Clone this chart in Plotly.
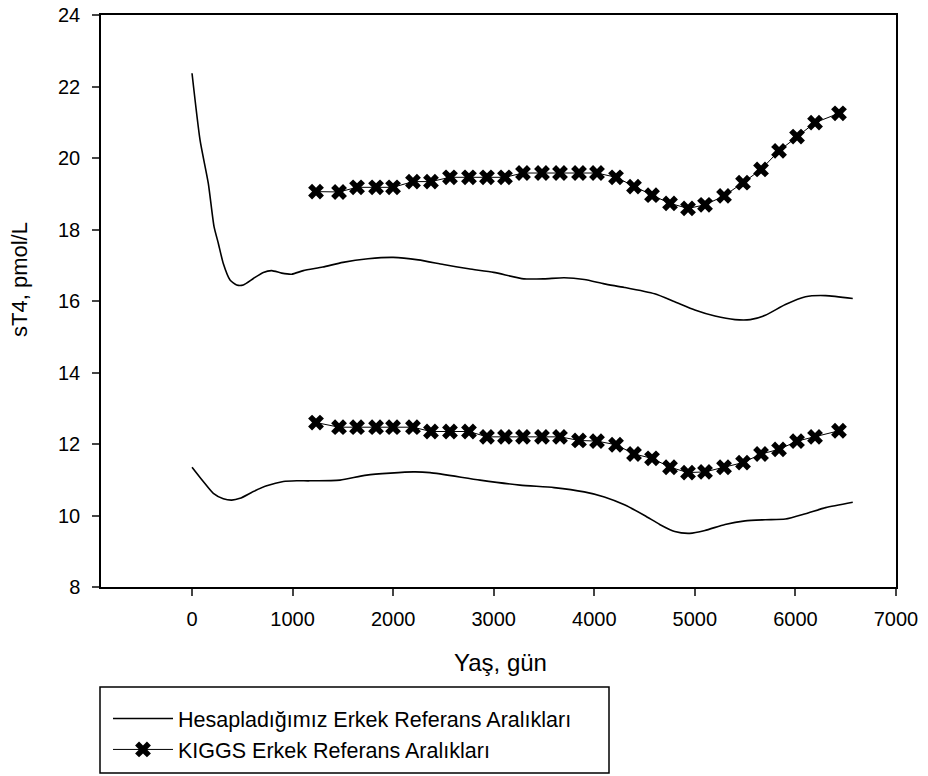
import plotly.graph_objects as go

# Calculated (smooth) reference limits
calc_upper_x = [0, 80, 162, 219, 262, 311, 378, 444, 510, 610, 709, 792, 892, 991, 1107,
                1300, 1500, 1750, 2000, 2250, 2500, 2750, 3000, 3300, 3500, 3700, 3900,
                4100, 4300, 4600, 4800, 5000, 5200, 5400, 5550, 5700, 5900, 6100, 6300, 6570]
calc_upper_y = [22.37, 20.5, 19.29, 18.08, 17.61, 17.05, 16.59, 16.45, 16.45, 16.63, 16.80,
                16.85, 16.78, 16.75, 16.85, 16.95, 17.08, 17.18, 17.22, 17.15, 17.02, 16.90,
                16.80, 16.62, 16.62, 16.65, 16.60, 16.48, 16.38, 16.20, 15.98, 15.75, 15.58,
                15.48, 15.48, 15.60, 15.90, 16.12, 16.15, 16.07]

calc_lower_x = [0, 112, 212, 311, 395, 477, 610, 743, 908, 1041, 1173, 1472, 1737, 2200,
                2367, 2864, 3261, 3600, 3900, 4100, 4300, 4500, 4650, 4800, 4950, 5100,
                5300, 5500, 5700, 5900, 6100, 6300, 6570]
calc_lower_y = [11.35, 10.95, 10.62, 10.47, 10.43, 10.48, 10.67, 10.83, 10.95, 10.97, 10.97,
                10.99, 11.13, 11.22, 11.20, 10.99, 10.85, 10.78, 10.66, 10.52, 10.30, 10.0,
                9.75, 9.55, 9.50, 9.58, 9.75, 9.85, 9.88, 9.90, 10.05, 10.22, 10.37]

# KIGGS reference limits
kiggs_x = [1233, 1462, 1641, 1830, 1999, 2197, 2376, 2565, 2754, 2933, 3112, 3291, 3480,
           3659, 3848, 4027, 4216, 4395, 4574, 4753, 4932, 5101, 5290, 5479, 5658, 5837,
           6016, 6195, 6433]
kiggs_upper = [19.06, 19.05, 19.18, 19.18, 19.18, 19.34, 19.34, 19.46, 19.46, 19.46, 19.46,
               19.58, 19.58, 19.58, 19.58, 19.58, 19.46, 19.20, 18.96, 18.73, 18.59, 18.69,
               18.94, 19.31, 19.68, 20.20, 20.60, 20.99, 21.25]
kiggs_lower = [12.60, 12.47, 12.47, 12.47, 12.47, 12.47, 12.35, 12.35, 12.35, 12.20, 12.20,
               12.20, 12.20, 12.20, 12.10, 12.08, 11.98, 11.72, 11.60, 11.35, 11.20, 11.22,
               11.35, 11.48, 11.72, 11.85, 12.08, 12.20, 12.37]

x_ticks = [0, 1000, 2000, 3000, 4000, 5000, 6000, 7000]
y_ticks = [8, 10, 12, 14, 16, 18, 20, 22, 24]

name_calc = "Hesapladığımız Erkek Referans Aralıkları"
name_kiggs = "KIGGS Erkek Referans Aralıkları"
x_title = "Yaş, gün"
y_title = "sT4, pmol/L"

FONT = "Liberation Sans, Arial, sans-serif"

fig = go.Figure()
fig.add_trace(go.Scatter(x=calc_upper_x, y=calc_upper_y, mode="lines", name=name_calc,
                         line=dict(color="black", width=1.6, shape="spline", smoothing=0.6),
                         legendgroup="c"))
fig.add_trace(go.Scatter(x=calc_lower_x, y=calc_lower_y, mode="lines", name=name_calc,
                         line=dict(color="black", width=1.6, shape="spline", smoothing=0.6),
                         showlegend=False, legendgroup="c"))
fig.add_trace(go.Scatter(x=kiggs_x, y=kiggs_upper, mode="lines+markers", name=name_kiggs,
                         line=dict(color="black", width=1),
                         marker=dict(symbol="x", size=14, color="black"),
                         legendgroup="k"))
fig.add_trace(go.Scatter(x=kiggs_x, y=kiggs_lower, mode="lines+markers", name=name_kiggs,
                         line=dict(color="black", width=1),
                         marker=dict(symbol="x", size=14, color="black"),
                         showlegend=False, legendgroup="k"))

# legend frame (paper coords)
W, H = 928, 776
L, R, T, B = 101, 32, 15, 189
pw, ph = W - L - R, H - T - B
def px_x(x):
    return (x - L) / pw
def px_y(y):
    return (H - B - y) / ph

fig.add_shape(type="rect", xref="paper", yref="paper",
              x0=px_x(100), x1=px_x(609), y0=px_y(687), y1=px_y(773),
              line=dict(color="black", width=1.5), fillcolor="rgba(0,0,0,0)")

fig.add_annotation(text=x_title, xref="paper", yref="paper", x=px_x(500), y=px_y(662),
                   xanchor="center", yanchor="middle", showarrow=False,
                   font=dict(size=24, family=FONT, color="black"))
fig.add_annotation(text=y_title, xref="paper", yref="paper", x=px_x(19), y=px_y(280),
                   xanchor="center", yanchor="middle", showarrow=False, textangle=-90,
                   font=dict(size=22, family=FONT, color="black"))

fig.update_layout(
    width=W, height=H,
    margin=dict(l=L, r=R, t=T, b=B, autoexpand=False),
    paper_bgcolor="white", plot_bgcolor="white",
    font=dict(family=FONT, color="black", size=20),
    showlegend=True,
    legend=dict(x=px_x(108), y=px_y(698), xanchor="left", yanchor="top",
                bgcolor="rgba(0,0,0,0)", borderwidth=0,
                font=dict(size=21.5, family=FONT), itemwidth=60, tracegroupgap=0),
    xaxis=dict(range=[-905, 7000], tickvals=x_ticks, ticks="outside", ticklen=7,
               tickwidth=1.5, showline=True, linewidth=1.5, linecolor="black",
               mirror=True, showgrid=False, zeroline=False,
               tickfont=dict(size=20), ticklabelstandoff=6),
    yaxis=dict(range=[8, 24], tickvals=y_ticks, ticks="outside", ticklen=7,
               tickwidth=1.5, showline=True, linewidth=1.5, linecolor="black",
               mirror=True, showgrid=False, zeroline=False,
               tickfont=dict(size=20), ticklabelstandoff=8),
)

fig.write_html("out.html")
